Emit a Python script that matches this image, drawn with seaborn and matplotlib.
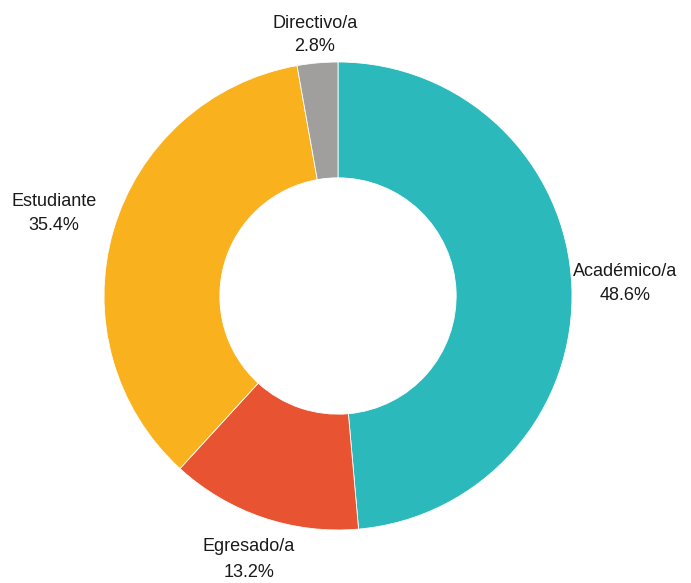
import numpy as np
import seaborn as sns
from matplotlib import pyplot as plt

sns.set_theme(style="white")
plt.rcParams["font.family"] = ["Liberation Sans", "DejaVu Sans"]

categories = ["Académico/a", "Egresado/a", "Estudiante", "Directivo/a"]
shares = [48.6, 13.2, 35.4, 2.8]
colors = ["#2BB9BB", "#E85431", "#F9B11E", "#A09F9D"]

# label distance (in radii) and line spacing for each slice label
label_dist = [1.23, 1.19, 1.265, 1.12]
label_spacing = [1.5, 1.7, 1.5, 1.45]

W, H = 691, 583
cx, cy, r = 338, 296, 234

fig = plt.figure(figsize=(W / 100, H / 100), dpi=100)
ax = fig.add_axes([(cx - r) / W, (H - cy - r) / H, 2 * r / W, 2 * r / H])

wedges, _ = ax.pie(
    shares,
    colors=colors,
    startangle=90,
    counterclock=False,
    radius=1,
    wedgeprops=dict(width=0.495, edgecolor="white", linewidth=0.6),
)

for w, name, val, d, ls in zip(wedges, categories, shares, label_dist, label_spacing):
    ang = np.deg2rad((w.theta1 + w.theta2) / 2)
    ax.text(
        d * np.cos(ang),
        d * np.sin(ang),
        f"{name}\n{val:.1f}%",
        ha="center",
        va="center",
        fontsize=13,
        color="#1a1a1a",
        linespacing=ls,
    )

ax.set_xlim(-1, 1)
ax.set_ylim(-1, 1)
ax.set_aspect("equal")
ax.axis("off")

plt.savefig("out.png", dpi=100)
